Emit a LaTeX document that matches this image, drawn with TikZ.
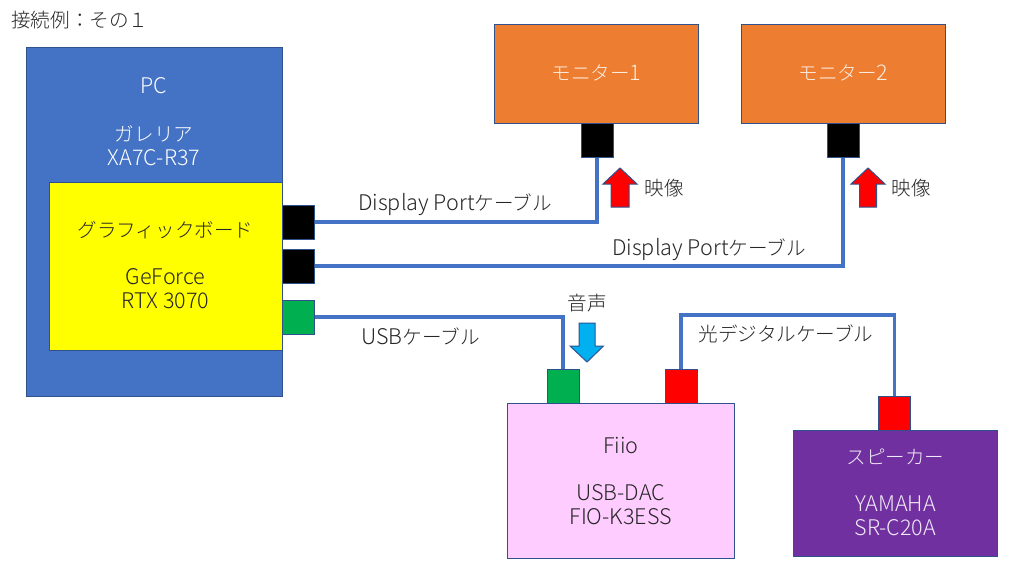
\documentclass[tikz,border=0pt]{standalone}
\usepackage{fontspec}
\setmainfont{Noto Sans CJK JP Light}
\newfontfamily\latn[Scale=1.1]{Noto Sans CJK JP Light}
\newcommand{\lt}[1]{{\latn #1}}
\newcommand{\drop}[1]{\rule[-#1]{0pt}{#1}}
\definecolor{bdr}{HTML}{2F528F}
\definecolor{cblue}{HTML}{4472C4}
\definecolor{corange}{HTML}{ED7D31}
\definecolor{cyel}{HTML}{FFFF00}
\definecolor{cpink}{HTML}{FFCCFF}
\definecolor{cpurple}{HTML}{7030A0}
\definecolor{cgreen}{HTML}{00B050}
\definecolor{cred}{HTML}{FF0000}
\definecolor{csky}{HTML}{00B0F0}
\definecolor{ctext}{HTML}{262626}
\tikzset{
  x=0.75pt,y=-0.75pt,
  box/.style={draw=bdr,line width=0.75pt,inner sep=0pt,align=center,font=\fontsize{14.7pt}{18pt}\selectfont},
  portbox/.style={draw=bdr,line width=0.75pt,inner sep=0pt,minimum width=24pt,minimum height=25.5pt},
  cable/.style={draw=cblue,line width=2.6pt},
  txt/.style={inner sep=0pt,align=center,text=ctext,font=\fontsize{14.7pt}{18pt}\selectfont},
  flow/.style={draw=bdr,line width=0.75pt},
}
\newcommand{\boxat}[6]{\node[box,fill=#2,text=#3,minimum width=#4*0.75pt,minimum height=#5*0.75pt,anchor=north west] (#1) at #6}
\begin{document}
\begin{tikzpicture}
\useasboundingbox (0,0) rectangle (1024,567);
\fill[white] (0,0) rectangle (1024,567);
% main shapes
\boxat{pc}{cblue}{white}{255.5}{349}{(26,47)} {};
\boxat{gpu}{cyel}{ctext}{233}{168.5}{(48.5,181.5)} {グラフィックボード\\[5.25pt]\\[-6pt]\lt{GeForce}\\\lt{RTX 3070}\drop{1.5pt}};
\boxat{monA}{corange}{white!85!corange}{204}{99}{(494,24)} {モニター\lt{1}\drop{1.5pt}};
\boxat{monB}{corange}{white!85!corange}{204}{99}{(741,24)} {モニター\lt{2}\drop{1.5pt}};
\boxat{dac}{cpink}{ctext}{226.5}{155}{(507,403)} {\lt{Fiio}\\[5.5pt]\\[-6pt]\lt{USB-DAC}\\\lt{FIO-K3ESS}};
\boxat{spk}{cpurple}{white!90!cpurple}{204}{126}{(793,430)} {スピーカー\\[5.25pt]\\[-6pt]\lt{YAMAHA}\\\lt{SR-C20A}\drop{1.5pt}};
\node[txt,text=white] (pclabel) at (154,121.5) {\lt{PC}\\[6pt]\\[-6pt]ガレリア\\\lt{XA7C-R37}};
% ports
\node[portbox,fill=black,minimum width=32*0.75pt,minimum height=34*0.75pt] (p1) at (298,222) {};
\node[portbox,fill=black,minimum width=32*0.75pt,minimum height=34*0.75pt] (p2) at (298,266) {};
\node[portbox,fill=cgreen,minimum width=32*0.75pt,minimum height=34*0.75pt] (p3) at (298,317) {};
\node[portbox,fill=black,minimum width=32*0.75pt,minimum height=34*0.75pt] (m1) at (597,140) {};
\node[portbox,fill=black,minimum width=32*0.75pt,minimum height=34*0.75pt] (m2) at (843,140) {};
\node[portbox,fill=cgreen,minimum width=32*0.75pt,minimum height=34*0.75pt] (d1) at (563,386) {};
\node[portbox,fill=cred,minimum width=32*0.75pt,minimum height=34*0.75pt] (d2) at (681,386) {};
\node[portbox,fill=cred,minimum width=32*0.75pt,minimum height=34*0.75pt] (s1) at (894.5,413) {};
% cables
\coordinate (opt) at (681,315);
\draw[cable] (p1.east) -| (m1.south);
\draw[cable] (p2.east) -| (m2.south);
\draw[cable] (p3.east) -| (d1.north);
\draw[cable] (d2.north) |- (opt) -| (s1.north);
% flow arrows
\draw[flow,fill=cred] (620,168) -- (637,184) -- (629,184) -- (629,207) -- (611,207) -- (611,184) -- (603,184) -- cycle;
\draw[flow,fill=cred] (868,168) -- (885,184) -- (876.5,184) -- (876.5,207) -- (859.5,207) -- (859.5,184) -- (851,184) -- cycle;
\draw[flow,fill=csky] (587,362) -- (603.5,346) -- (595,346) -- (595,323) -- (579,323) -- (579,346) -- (570,346) -- cycle;
% labels
\node[txt,anchor=west,text=ctext] (title) at (11,20) {接続例：その１};
\node[txt] (lblA) at (455,204.5) {\lt{Display Port}ケーブル};
\node[txt] (lblB) at (709,249.5) {\lt{Display Port}ケーブル};
\node[txt] (lblC) at (420.5,336) {\lt{USB}ケーブル};
\node[txt] (lblD) at (786,334) {光デジタルケーブル};
\node[txt] (v1) at (664,188) {映像};
\node[txt] (v2) at (911,188) {映像};
\node[txt] (aud) at (587,303) {音声};
\end{tikzpicture}
\end{document}
